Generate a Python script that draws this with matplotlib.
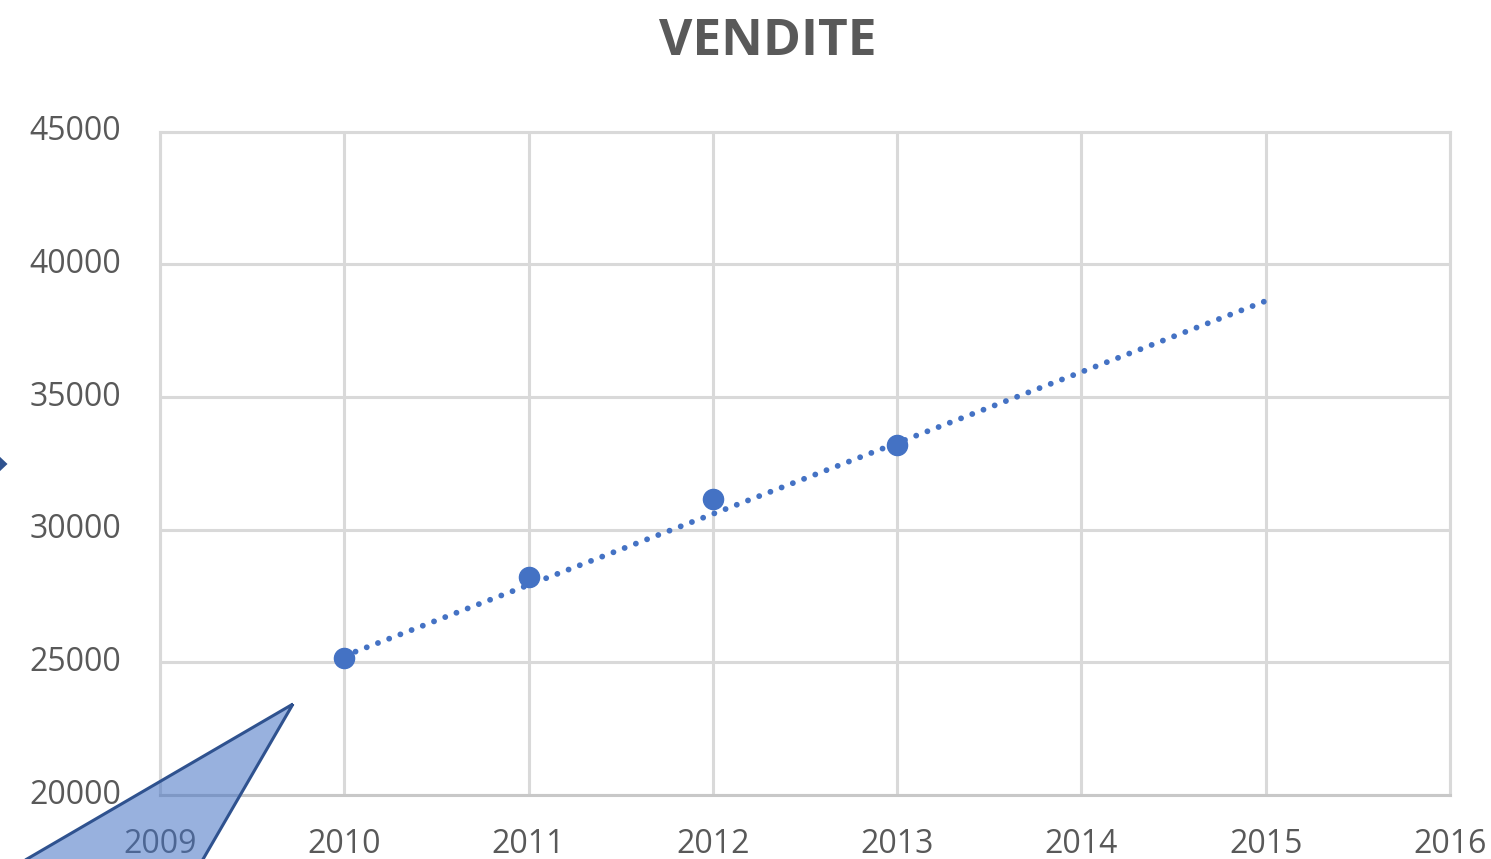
import matplotlib.pyplot as plt
from matplotlib.patches import Polygon
from matplotlib.transforms import ScaledTranslation

# dati
anni = [2010, 2011, 2012, 2013]
vendite = [25150, 28230, 31140, 33200]
# linea di tendenza (lineare, prevista fino al 2015)
trend_anni = [2010, 2015]
trend_valori = [25240, 38620]
x_ticks = [2009, 2010, 2011, 2012, 2013, 2014, 2015, 2016]
y_ticks = [20000, 25000, 30000, 35000, 40000, 45000]

W, H = 1491, 859
grigio = '#595959'
blu = '#4472c4'

plt.rcParams['font.family'] = ['Open Sans', 'DejaVu Sans']

fig = plt.figure(figsize=(W / 100, H / 100), dpi=100)
ax = fig.add_axes([160 / W, 1 - 795 / H, (1450 - 160) / W, (795 - 131.7) / H])

ax.set_xlim(2009, 2016)
ax.set_ylim(20000, 45000)
ax.set_xticks(x_ticks)
ax.set_yticks(y_ticks)
ax.set_xticklabels([str(a) for a in x_ticks])
ax.set_yticklabels([str(v) for v in y_ticks])
ax.tick_params(length=0, labelsize=23, labelcolor=grigio)
ax.tick_params(axis='x', pad=24)
ax.tick_params(axis='y', pad=28)
# etichette y leggermente sopra la griglia, come in Excel
for lab in ax.get_yticklabels():
    lab.set_transform(lab.get_transform() + ScaledTranslation(0, 4 / 100, fig.dpi_scale_trans))

ax.grid(True, color='#d9d9d9', linewidth=2.2)
ax.set_axisbelow(True)
for s in ax.spines.values():
    s.set_color('#d9d9d9')
    s.set_linewidth(2.2)
ax.spines['bottom'].set_color('#c8c8c8')

# linea di tendenza punteggiata
ax.plot(trend_anni, trend_valori, color=blu, linewidth=4.2,
        linestyle=(0, (0.01, 2.05)), dash_capstyle='round', zorder=3)
# punti
ax.plot(anni, vendite, 'o', color=blu, markersize=14.5, zorder=4)

fig.text(768 / W, 1 - 42 / H, 'VENDITE', ha='center', va='center',
         fontsize=37, fontweight='bold', color=grigio)

# forma (triangolo) in basso a sinistra
def px(x, y):
    return (x / W, 1 - y / H)

tri = Polygon([px(293, 704), px(191, 880), px(-9, 880)], closed=True,
              transform=fig.transFigure, facecolor=blu, alpha=0.55,
              edgecolor='none', zorder=10)
fig.add_artist(tri)
tri_bordo = Polygon([px(293, 704), px(191, 880), px(-9, 880)], closed=True,
                    transform=fig.transFigure, facecolor='none',
                    edgecolor='#2f528f', linewidth=2.2, zorder=11)
fig.add_artist(tri_bordo)

# punta di freccia tagliata sul bordo sinistro
punta = Polygon([px(-2, 455), px(7.5, 464), px(-2, 473)], closed=True,
                transform=fig.transFigure, facecolor='#2f528f',
                edgecolor='none', zorder=11)
fig.add_artist(punta)

fig.savefig('out.png', dpi=100)
